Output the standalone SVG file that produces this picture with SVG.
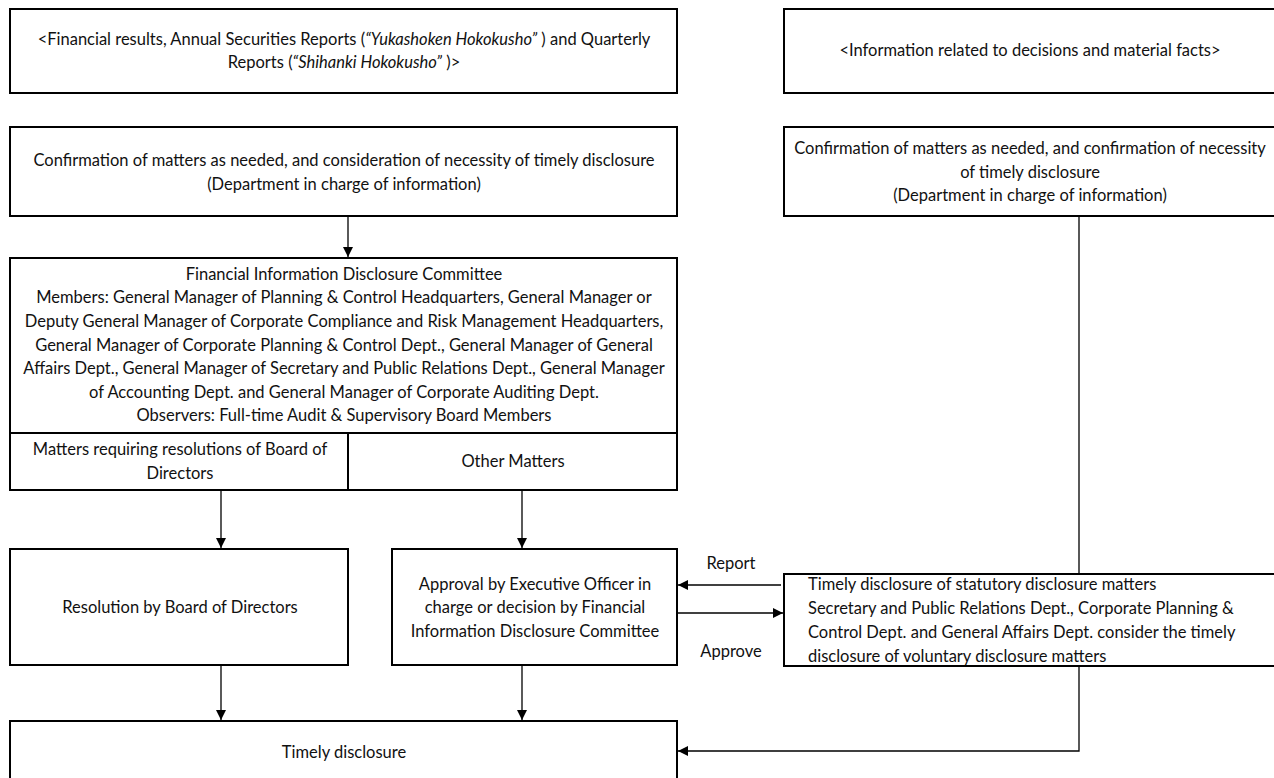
<svg xmlns="http://www.w3.org/2000/svg" width="1274" height="778" viewBox="0 0 1274 778">
<defs>
<style>
.box{fill:#fff;stroke:#000;stroke-width:2}
.t{font-family:Lato,"Open Sans",sans-serif;font-size:16.5px;fill:#111;text-anchor:middle}
.l{text-anchor:start}
.c{stroke:#000;stroke-width:1.3;fill:none}
</style>
<marker id="ah" viewBox="0 0 10 10" refX="10" refY="5" markerWidth="10" markerHeight="10" markerUnits="userSpaceOnUse" orient="auto">
<path d="M0,0 L10,5 L0,10 z" fill="#000"/>
</marker>
</defs>
<rect width="1274" height="778" fill="#fff"/>
<g id="connectors">
<line class="c" x1="348" y1="216" x2="348" y2="257" marker-end="url(#ah)"/>
<line class="c" x1="221" y1="490" x2="221" y2="548" marker-end="url(#ah)"/>
<line class="c" x1="522" y1="490" x2="522" y2="548" marker-end="url(#ah)"/>
<line class="c" x1="221" y1="665" x2="221" y2="720" marker-end="url(#ah)"/>
<line class="c" x1="522" y1="665" x2="522" y2="720" marker-end="url(#ah)"/>
<line class="c" x1="781" y1="585" x2="678" y2="585" marker-end="url(#ah)"/>
<line class="c" x1="677" y1="613" x2="783" y2="613" marker-end="url(#ah)"/>
<polyline class="c" points="1079,216 1079,751 678,751" marker-end="url(#ah)"/>
<text class="t" x="731" y="569">Report</text>
<text class="t" x="731" y="657">Approve</text>
</g>
<g id="n-fin-results">
<rect class="box" x="10" y="9" width="667" height="84"/>
<text class="t" x="344" y="45">&lt;Financial results, Annual Securities Reports (<tspan font-style="italic">“Yukashoken Hokokusho”</tspan> ) and Quarterly</text>
<text class="t" x="344" y="68">Reports (<tspan font-style="italic">“Shihanki Hokokusho”</tspan> )&gt;</text>
</g>
<g id="n-info-decisions">
<rect class="box" x="784" y="9" width="500" height="84"/>
<text class="t" x="1030" y="56">&lt;Information related to decisions and material facts&gt;</text>
</g>
<g id="n-confirm-left">
<rect class="box" x="10" y="127" width="667" height="89"/>
<text class="t" x="344" y="166">Confirmation of matters as needed, and consideration of necessity of timely disclosure</text>
<text class="t" x="344" y="190">(Department in charge of information)</text>
</g>
<g id="n-confirm-right">
<rect class="box" x="784" y="127" width="500" height="89"/>
<text class="t" x="1030" y="154">Confirmation of matters as needed, and confirmation of necessity</text>
<text class="t" x="1030" y="178">of timely disclosure</text>
<text class="t" x="1030" y="201">(Department in charge of information)</text>
</g>
<g id="n-committee">
<rect class="box" x="10" y="258" width="667" height="232"/>
<line x1="10" y1="433" x2="677" y2="433" stroke="#000" stroke-width="2"/>
<line x1="348" y1="433" x2="348" y2="490" stroke="#000" stroke-width="2"/>
<text class="t" x="344" y="280">Financial Information Disclosure Committee</text>
<text class="t" x="344" y="303">Members: General Manager of Planning &amp; Control Headquarters, General Manager or</text>
<text class="t" x="344" y="327">Deputy General Manager of Corporate Compliance and Risk Management Headquarters,</text>
<text class="t" x="344" y="351">General Manager of Corporate Planning &amp; Control Dept., General Manager of General</text>
<text class="t" x="344" y="374">Affairs Dept., General Manager of Secretary and Public Relations Dept., General Manager</text>
<text class="t" x="344" y="398">of Accounting Dept. and General Manager of Corporate Auditing Dept.</text>
<text class="t" x="344" y="421">Observers: Full-time Audit &amp; Supervisory Board Members</text>
<text class="t" x="180" y="455">Matters requiring resolutions of Board of</text>
<text class="t" x="180" y="479">Directors</text>
<text class="t" x="513" y="467">Other Matters</text>
</g>
<g id="n-resolution">
<rect class="box" x="10" y="549" width="338" height="116"/>
<text class="t" x="180" y="613">Resolution by Board of Directors</text>
</g>
<g id="n-approval">
<rect class="box" x="392" y="549" width="285" height="116"/>
<text class="t" x="535" y="590">Approval by Executive Officer in</text>
<text class="t" x="535" y="613">charge or decision by Financial</text>
<text class="t" x="535" y="637">Information Disclosure Committee</text>
</g>
<g id="n-statutory">
<rect class="box" x="784" y="574" width="500" height="92"/>
<text class="t l" x="808" y="590">Timely disclosure of statutory disclosure matters</text>
<text class="t l" x="808" y="614">Secretary and Public Relations Dept., Corporate Planning &amp;</text>
<text class="t l" x="808" y="638">Control Dept. and General Affairs Dept. consider the timely</text>
<text class="t l" x="808" y="662">disclosure of voluntary disclosure matters</text>
</g>
<g id="n-timely">
<rect class="box" x="10" y="721" width="667" height="70"/>
<text class="t" x="344" y="758">Timely disclosure</text>
</g>
</svg>
